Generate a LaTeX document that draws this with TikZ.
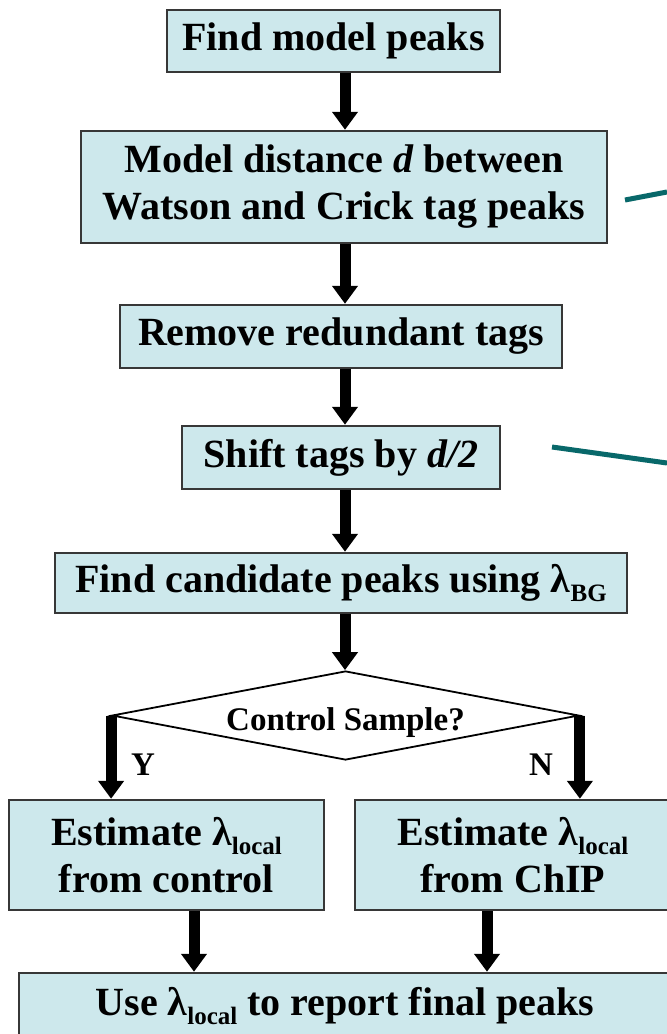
\documentclass[tikz,border=0pt]{standalone}
\usepackage{fontspec}
\setmainfont{Liberation Serif}
\usetikzlibrary{arrows.meta,shapes.geometric}
\definecolor{boxfill}{RGB}{205,232,236}
\definecolor{boxline}{RGB}{55,55,55}
\definecolor{tealline}{RGB}{8,104,106}
\newcommand{\lamsub}[1]{λ\raisebox{-9pt}{\fontsize{25}{25}\selectfont #1}}
\tikzset{
  box/.style={draw=boxline, fill=boxfill, line width=2.5pt, inner sep=0pt,
    align=center, font=\fontsize{40}{47}\selectfont\bfseries},
  arr/.style={line width=11pt, -{Triangle[width=25pt,length=18pt]}},
  teal/.style={draw=tealline, line width=5pt},
  lbl/.style={font=\fontsize{33}{36}\selectfont\bfseries, inner sep=0pt},
}
\begin{document}
\begin{tikzpicture}[x=1pt,y=-1pt]
\useasboundingbox (0,0) rectangle (667,1034);
\clip (0,0) rectangle (667,1034);
\fill[white] (0,0) rectangle (667,1034);
\coordinate (col) at (345,0);
\coordinate (lx) at (194,0);
\coordinate (rx) at (487,0);

\node[box, minimum width=333pt, minimum height=62pt] (b1) at (333.5,41) {Find model peaks};
\node[box, minimum width=526pt, minimum height=112pt] (b2) at (344,187)
  {Model distance \textit{d} between\\Watson and Crick tag peaks};
\node[box, minimum width=442pt, minimum height=63pt] (b3) at (341,336.5) {Remove redundant tags};
\node[box, minimum width=318pt, minimum height=63pt] (b4) at (341,457.5) {Shift tags by \textit{d/2}};
\node[box, minimum width=572pt, minimum height=60pt] (b5) at (341,583)
  {Find candidate peaks using \lamsub{BG}};
\node[diamond, draw, line width=1.8pt, aspect=5.25, inner sep=0pt,
  minimum width=467pt, minimum height=89pt,
  font=\fontsize{33}{36}\selectfont\bfseries] (dec) at (345.5,715.5)
  {\raisebox{-15pt}[0pt][0pt]{Control Sample?}};
\node[box, minimum width=315pt, minimum height=110pt] (left) at (166.5,855)
  {Estimate \lamsub{local}\\from control};
\node[box, minimum width=316pt, minimum height=110pt] (right) at (513,855)
  {Estimate \lamsub{local}\\from ChIP};
\node[box, minimum width=652pt, minimum height=66pt] (fin) at (345,1006)
  {Use \lamsub{local} to report final peaks};

\draw[arr] (b1.south -| col) -- (b2.north -| col);
\draw[arr] (b2.south -| col) -- (b3.north -| col);
\draw[arr] (b3.south -| col) -- (b4.north -| col);
\draw[arr] (b4.south -| col) -- (b5.north -| col);
\draw[arr] (b5.south -| col) -- (dec.north -| col);
\draw[arr] (dec.west) -- (dec.west |- left.north);
\draw[arr] (dec.east) -- (dec.east |- right.north);
\draw[arr] (left.south -| lx) -- (fin.north -| lx);
\draw[arr] (right.south -| rx) -- (fin.north -| rx);

\node[lbl] (ylab) at (143,765) {Y};
\node[lbl] (nlab) at (541,765) {N};

\coordinate (t1a) at (625,200);
\coordinate (t1b) at (667,192);
\coordinate (t2a) at (552,447);
\coordinate (t2b) at (667,463);
\draw[teal] (t1a) -- (t1b);
\draw[teal] (t2a) -- (t2b);
\end{tikzpicture}
\end{document}
